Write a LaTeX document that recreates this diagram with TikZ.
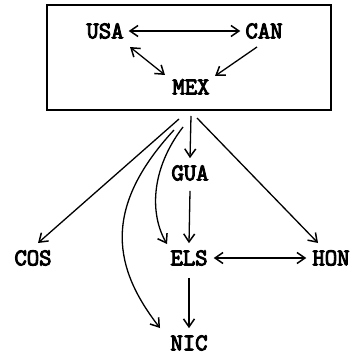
\documentclass[tikz,border=0pt]{standalone}
\usepackage{fontspec}
\newfontfamily\typefont[FakeBold=4]{Latin Modern Mono}
\usetikzlibrary{arrows.meta}
\begin{document}
\begin{tikzpicture}[x=1pt,y=-1pt,
  lbl/.style={font=\typefont\fontsize{24}{24}\selectfont, inner sep=0pt},
  con/.style={line width=1.3pt, -{Straight Barb[length=8pt,width=11pt,line width=1.5pt]}},
  bicon/.style={line width=1.3pt, {Straight Barb[length=8pt,width=11pt,line width=1.5pt]}-{Straight Barb[length=8pt,width=11pt,line width=1.5pt]}}]
\useasboundingbox (0,0) rectangle (352,358);
\node[draw, line width=1.2pt, minimum width=284pt, minimum height=105pt, inner sep=0pt] (box) at (189,57.5) {};
\node[lbl] (usa) at (105,31) {USA};
\node[lbl] (can) at (264,31) {CAN};
\node[lbl] (mex) at (191,87) {MEX};
\node[lbl] (gua) at (190,173) {GUA};
\node[lbl] (cos) at (33,258) {COS};
\node[lbl] (els) at (189,258) {ELS};
\node[lbl] (hon) at (331,258) {HON};
\node[lbl] (nic) at (189,343) {NIC};
\coordinate (sa) at (179,119);
\coordinate (sb) at (183,127);
\coordinate (sc) at (174,130);
\coordinate (sd) at (191,116);
\coordinate (se) at (197,118);
\draw[bicon] ([xshift=5pt]usa.east) -- ([xshift=-5pt]can.west);
\draw[bicon] (130,47) -- (165,75);
\draw[con] (257,47) -- (215,76);
\draw[con] (sd) -- ([yshift=7pt]gua.north);
\draw[con] (sa) -- (38,243);
\draw[con] (se) -- (318,243);
\draw[con] (sb) .. controls (150,170) and (150,215) .. (167,244);
\draw[con] (sc) .. controls (100,210) and (115,270) .. (160,328);
\draw[con] ([yshift=-10pt]gua.south) -- ([yshift=7pt]els.north);
\draw[bicon] ([xshift=6pt]els.east) -- ([xshift=-6pt]hon.west);
\draw[con] ([yshift=-12pt]els.south) -- ([yshift=7pt]nic.north);
\end{tikzpicture}
\end{document}
